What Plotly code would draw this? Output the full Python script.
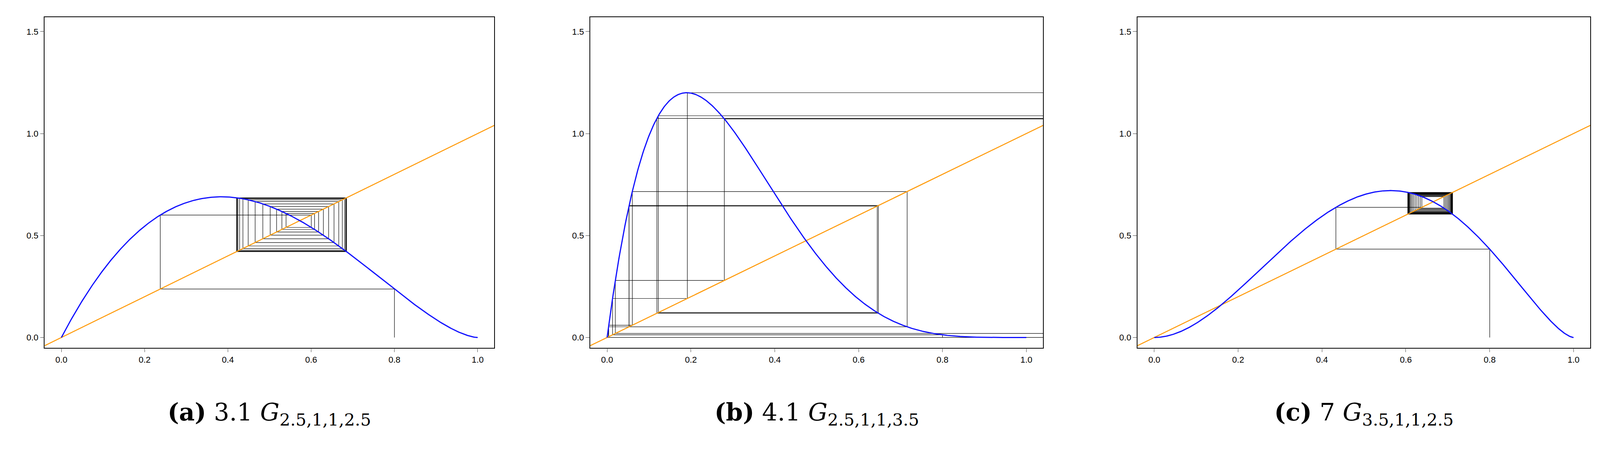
import numpy as np
from plotly.subplots import make_subplots
import plotly.graph_objects as go

# curve parameters: f(x) = c * x^p * |1-x|^q
params = [
    (3.9, 1.0, 1.6),
    (15.5, 1.0, 4.26),
    (8.2, 2.0, 1.55),
]
x_start = [0.8, 0.8, 0.8]
n_iter = [40, 20, 40]
captions = [
    "<b>(a)</b> 3.1 <i>G</i><sub>2.5,1,1,2.5</sub>",
    "<b>(b)</b> 4.1 <i>G</i><sub>2.5,1,1,3.5</sub>",
    "<b>(c)</b> 7 <i>G</i><sub>3.5,1,1,2.5</sub>",
]
x_ticks = [0.0, 0.2, 0.4, 0.6, 0.8, 1.0]
y_ticks = [0.0, 0.5, 1.0, 1.5]


def curve(c, p, q):
    return lambda x: c * x ** p * np.abs(1 - x) ** q


def cobweb(f, x0, n):
    xs, ys = [x0], [0.0]
    x = x0
    for _ in range(n):
        y = f(x)
        xs += [x, y]
        ys += [y, y]
        x = y
    return xs, ys


fig = make_subplots(rows=1, cols=3, horizontal_spacing=0.06)
domains = [(0.026, 0.307), (0.367, 0.650), (0.709, 0.992)]
grid = np.linspace(0, 1, 400)

for k, (c, p, q) in enumerate(params):
    f = curve(c, p, q)
    col = k + 1
    cx, cy = cobweb(f, x_start[k], n_iter[k])
    fig.add_trace(go.Scatter(x=cx, y=cy, mode="lines",
                             line=dict(color="black", width=1.2)), row=1, col=col)
    fig.add_trace(go.Scatter(x=[-0.05, 1.1], y=[-0.05, 1.1], mode="lines",
                             line=dict(color="#FF9900", width=2.5)), row=1, col=col)
    fig.add_trace(go.Scatter(x=grid, y=f(grid), mode="lines",
                             line=dict(color="#1010FF", width=3)), row=1, col=col)
    ax = "" if k == 0 else str(col)
    fig.layout["xaxis" + ax].update(domain=domains[k], range=[-0.04, 1.04],
                                    tickvals=x_ticks, ticktext=[f"{v:.1f}" for v in x_ticks],
                                    showgrid=False, zeroline=False, mirror=True,
                                    showline=True, linecolor="black", linewidth=1.5,
                                    ticks="outside", ticklen=10)
    fig.layout["yaxis" + ax].update(domain=[0.27, 0.97], range=[-0.05, 1.57],
                                    tickvals=y_ticks, ticktext=[f"{v:.1f}" for v in y_ticks],
                                    showgrid=False, zeroline=False, mirror=True,
                                    showline=True, linecolor="black", linewidth=1.5,
                                    ticks="outside", ticklen=10)
    fig.add_annotation(text=captions[k], xref="paper", yref="paper",
                       x=(domains[k][0] + domains[k][1]) / 2, y=0.13,
                       xanchor="center", yanchor="middle",
                       showarrow=False, font=dict(size=62, family="DejaVu Serif", color="black"))

fig.update_layout(autosize=True, showlegend=False,
                  plot_bgcolor="white", paper_bgcolor="white",
                  margin=dict(l=0, r=0, t=0, b=0),
                  font=dict(family="Liberation Sans", size=22, color="black"))
fig.write_html("out.html", default_width="100vw", default_height="100vh",
               config={"responsive": True})
